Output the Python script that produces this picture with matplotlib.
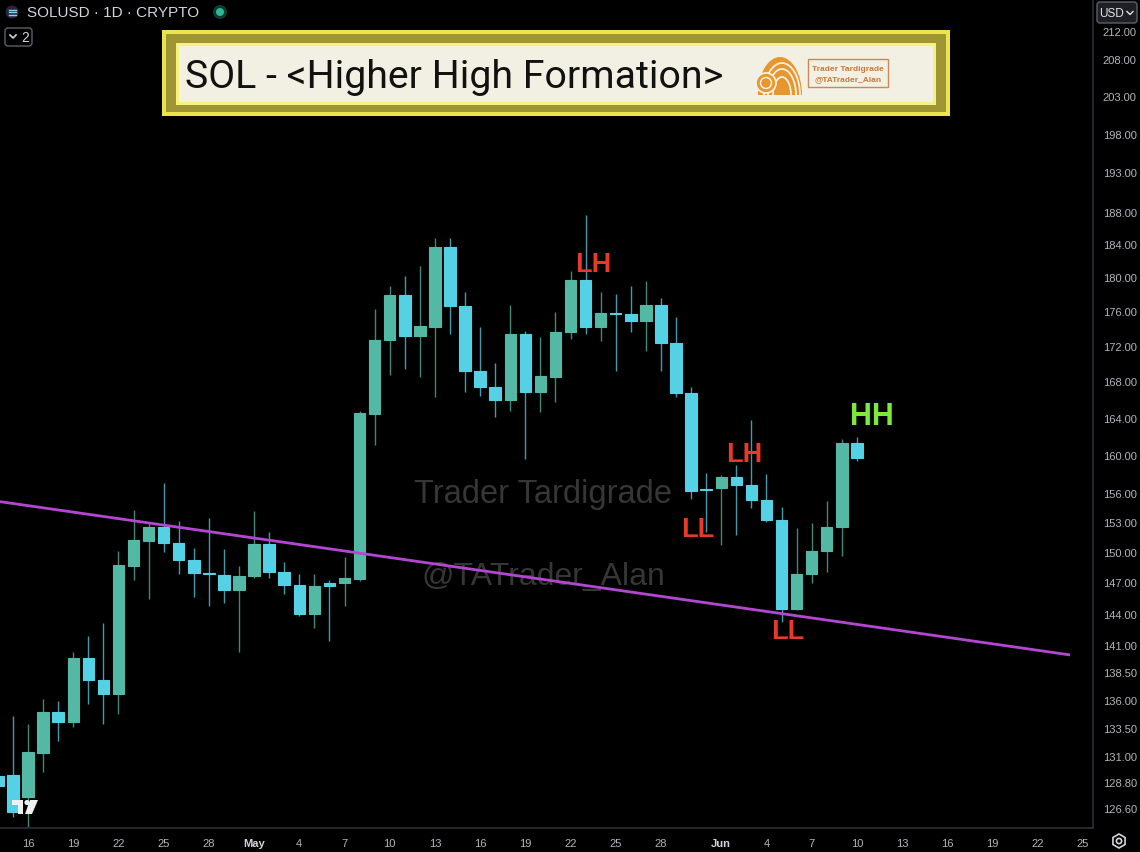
import numpy as np
import pandas as pd
import matplotlib
matplotlib.use("Agg")
import matplotlib.pyplot as plt
import matplotlib.dates as mdates
from matplotlib.patches import Rectangle, FancyBboxPatch, Circle, RegularPolygon, Polygon, Ellipse

plt.rcParams['font.family'] = ['Liberation Sans', 'DejaVu Sans']

# daily SOLUSD candles, Apr 14 - Jun 10
dates = pd.date_range("2024-04-14", "2024-06-10", freq="D")
opens = [129.3, 129.4, 127.5, 131.3, 134.9, 134.0, 139.8, 137.8, 136.5, 148.6,
         151.1, 152.5, 150.9, 149.2, 147.9, 147.75, 146.3, 147.6, 150.8, 148.0,
         146.8, 144.0, 146.9, 146.9, 147.3, 164.4, 172.7, 177.9, 173.1, 174.2,
         183.7, 176.6, 169.2, 167.4, 165.9, 173.3, 166.8, 168.5, 173.6, 179.7,
         174.1, 175.8, 175.7, 174.9, 176.7, 172.3, 166.7, 156.4, 156.5, 157.7,
         156.8, 155.3, 153.2, 144.4, 147.8, 150.1, 152.5, 161.2]
closes = [128.4, 126.2, 131.4, 134.9, 134.0, 139.8, 137.8, 136.5, 148.7, 151.2,
          152.5, 150.9, 149.2, 147.9, 147.8, 146.3, 147.6, 150.8, 148.0, 146.8,
          144.0, 146.7, 146.7, 147.4, 164.5, 172.7, 177.9, 173.1, 174.3, 183.7,
          176.6, 169.2, 167.4, 165.9, 173.3, 166.8, 168.6, 173.6, 179.7, 174.1,
          175.8, 175.7, 174.9, 176.7, 172.3, 166.7, 156.2, 156.3, 157.7, 156.8,
          155.3, 153.2, 144.4, 147.8, 150.1, 152.5, 161.2, 159.7]
highs = [129.8, 134.5, 133.8, 136.1, 135.9, 140.4, 141.9, 143.1, 150.1, 154.2,
         153.0, 157.0, 153.1, 150.4, 153.4, 150.3, 148.6, 154.1, 152.0, 149.0,
         147.8, 147.8, 147.2, 149.5, 164.7, 176.2, 178.9, 180.1, 181.4, 184.7,
         184.8, 178.3, 174.2, 170.1, 176.7, 173.7, 173.0, 175.9, 180.8, 187.6,
         178.3, 178.0, 179.0, 179.5, 177.5, 175.3, 167.4, 158.1, 157.9, 158.9,
         163.7, 158.0, 154.6, 152.4, 152.9, 155.2, 161.7, 161.9]
lows = [127.8, 125.8, 125.0, 129.6, 132.3, 133.6, 135.6, 133.8, 134.7, 147.2,
        145.4, 150.0, 147.8, 145.6, 144.7, 145.0, 140.4, 147.4, 147.4, 145.9,
        143.8, 142.6, 141.4, 144.7, 147.1, 161.0, 168.7, 169.4, 168.5, 166.3,
        173.3, 166.8, 166.4, 164.1, 164.7, 159.6, 164.6, 165.7, 172.8, 173.4,
        172.6, 169.2, 173.6, 171.4, 169.1, 166.2, 155.4, 152.0, 150.7, 151.7,
        154.4, 153.0, 143.2, 144.3, 146.9, 148.0, 149.6, 159.3]

# drawn trendline (two anchor points)
trend_dates = ["2024-04-14 03:20", "2024-06-24 03:30"]
trend_prices = [155.1, 140.1]

# swing labels
swing_text = ["LH", "LH", "LL", "LL", "HH"]
swing_dates = ["2024-05-23 12:00", "2024-06-02 12:00", "2024-05-30 10:00", "2024-06-05 10:00", "2024-06-11 00:00"]
swing_prices = [181.6, 160.1, 152.3, 142.3, 164.2]

price_ticks = [126.6, 128.8, 131, 133.5, 136, 138.5, 141, 144, 147, 150, 153, 156,
               160, 164, 168, 172, 176, 180, 184, 188, 193, 198, 203, 208, 212]
date_ticks = ["2024-04-16", "2024-04-19", "2024-04-22", "2024-04-25", "2024-04-28",
              "2024-05-01", "2024-05-04", "2024-05-07", "2024-05-10", "2024-05-13",
              "2024-05-16", "2024-05-19", "2024-05-22", "2024-05-25", "2024-05-28",
              "2024-06-01", "2024-06-04", "2024-06-07", "2024-06-10", "2024-06-13",
              "2024-06-16", "2024-06-19", "2024-06-22", "2024-06-25"]
date_labels = ["16", "19", "22", "25", "28", "May", "4", "7", "10", "13", "16", "19",
               "22", "25", "28", "Jun", "4", "7", "10", "13", "16", "19", "22", "25"]

UP = "#53b8a4"
DOWN = "#55d1e6"
TXT = "#b2b5be"
ORANGE = "#e8962e"
CREAM = "#f2f0e2"

W, H = 1140, 853
fig = plt.figure(figsize=(W / 100, H / 100), dpi=100, facecolor="black")
ax = fig.add_axes([0, 1 - 829 / H, 1093 / W, 829 / H])
ax.set_facecolor("black")
ax.set_yscale("log")

x = mdates.date2num(dates)
o = np.array(opens); c = np.array(closes)
cols = [UP if cc >= oo else DOWN for oo, cc in zip(o, c)]
ax.vlines(x, lows, highs, colors=cols, linewidth=1.0, alpha=0.75, zorder=2)
bottoms = np.minimum(o, c)
heights = np.abs(c - o)
ax.bar(x, heights, bottom=bottoms, width=0.76, color=cols, edgecolor=cols,
       linewidth=0.8, zorder=3)

# trendline
ax.plot(mdates.date2num(pd.to_datetime(trend_dates)), trend_prices,
        color="#b447d2", linewidth=2.0, zorder=4, solid_capstyle="butt")

# watermark
ax.text(0.497, 0.404, "Trader Tardigrade", transform=ax.transAxes, ha="center",
        va="center", fontsize=23.5, color="#363636", zorder=1)
ax.text(0.497, 0.304, "@TATrader_Alan", transform=ax.transAxes, ha="center",
        va="center", fontsize=23, color="#363636", zorder=1)

for t, d, p in zip(swing_text, swing_dates, swing_prices):
    green = t == "HH"
    ax.text(mdates.date2num(pd.Timestamp(d)), p, t, ha="center", va="center",
            fontsize=22 if green else 19.5, fontweight="bold",
            color="#7cea3c" if green else "#e8392b", zorder=6)

x0 = mdates.date2num(pd.Timestamp("2024-04-16")) - 1.86
ax.set_xlim(x0, x0 + 1093 / 15.07)
ax.set_ylim(124.9, 216.5)

ax.yaxis.tick_right()
ax.set_yticks(price_ticks)
ax.set_yticklabels([f"{v:.2f}" for v in price_ticks])
ax.yaxis.set_minor_locator(matplotlib.ticker.NullLocator())
ax.tick_params(axis="y", length=0, pad=7, labelsize=8, labelcolor=TXT)
ax.set_xticks(mdates.date2num(pd.to_datetime(date_ticks)))
ax.set_xticklabels(date_labels)
ax.tick_params(axis="x", length=0, pad=7, labelsize=8, labelcolor=TXT)
for lab in ax.get_xticklabels():
    if lab.get_text() in ("May", "Jun"):
        lab.set_fontweight("bold")
        lab.set_color("#d1d4dc")
for s in ("top", "left"):
    ax.spines[s].set_visible(False)
for s in ("right", "bottom"):
    ax.spines[s].set_color("#2e3038")
    ax.spines[s].set_linewidth(1.2)

# overlay in pixel coordinates for the chart decorations
ov = fig.add_axes([0, 0, 1, 1], zorder=10)
ov.set_xlim(0, W)
ov.set_ylim(H, 0)
ov.axis("off")
ov.patch.set_alpha(0)

# title banner
ov.add_patch(Rectangle((162, 31), 788, 86, facecolor="#ece44a", edgecolor="none"))
ov.add_patch(Rectangle((166, 35), 780, 78, facecolor="#a09534", edgecolor="none"))
ov.add_patch(Rectangle((176, 44), 760, 62, facecolor="#f6f27c", edgecolor="none"))
ov.add_patch(Rectangle((179, 47), 754, 56, facecolor=CREAM, edgecolor="none"))
ov.text(185, 77, "SOL - <Higher High Formation>", ha="left", va="center",
        fontsize=28.3, color="#111111", family=["Roboto", "DejaVu Sans"])

# little orange tardigrade logo: striped dome with a round head, cut at the base
logo_clip = Rectangle((748, 55), 60, 41, transform=ov.transData)
logo_parts = [Ellipse((780, 96), 44, 76, facecolor=ORANGE, edgecolor="none")]
for w_, h_ in ((18, 36), (28, 52), (36, 64)):
    logo_parts.append(Ellipse((782, 96), w_, h_, facecolor="none", edgecolor=CREAM, linewidth=1.3))
logo_parts.append(Circle((766, 84), 10, facecolor=ORANGE, edgecolor=CREAM, linewidth=1.3))
logo_parts.append(Circle((766, 84), 5.5, facecolor="none", edgecolor=CREAM, linewidth=1.1))
for p in logo_parts:
    ov.add_patch(p)
    p.set_clip_path(logo_clip)
ov.add_patch(Rectangle((808, 60), 80, 28, facecolor="none", edgecolor="#c98a58", linewidth=1.0))
ov.text(848, 69, "Trader Tardigrade", ha="center", va="center", fontsize=6,
        color="#c8783c", fontweight="bold")
ov.text(848, 80, "@TATrader_Alan", ha="center", va="center", fontsize=6,
        color="#c8783c", fontweight="bold")

# header
ov.add_patch(Circle((12, 13), 6.5, facecolor="#2b2540", edgecolor="none"))
for dy in (-2.5, 0, 2.5):
    ov.plot([8.5, 15.5], [13 + dy, 13 + dy], color="#8fd0e8", linewidth=1.0)
ov.text(27, 13, "SOLUSD · 1D · CRYPTO", ha="left", va="center", fontsize=11, color="#d1d4dc")
ov.add_patch(Circle((220, 13), 7, facecolor="#0e3b33", edgecolor="none"))
ov.add_patch(Circle((220, 13), 4, facecolor="#2fb896", edgecolor="none"))
ov.add_patch(FancyBboxPatch((5, 29), 27, 18, boxstyle="round,pad=0,rounding_size=3",
                            facecolor="black", edgecolor="#5d606b", linewidth=1))
ov.plot([10, 13, 16], [36, 39, 36], color="#d1d4dc", linewidth=1.2)
ov.text(25, 38, "2", ha="center", va="center", fontsize=10, color="#d1d4dc")

# currency box
ov.add_patch(FancyBboxPatch((1097, 3), 40, 21, boxstyle="round,pad=0,rounding_size=3",
                            facecolor="#1e1f24", edgecolor="#5d606b", linewidth=1))
ov.text(1111, 14, "USD", ha="center", va="center", fontsize=8.5, color="#e0e3eb")
ov.plot([1127, 1130, 1133], [12.5, 15.5, 12.5], color="#e0e3eb", linewidth=1.0)

# settings glyph
ov.add_patch(RegularPolygon((1119, 842), 6, radius=7, orientation=0, facecolor="none",
                            edgecolor="#d1d4dc", linewidth=1.2))
ov.add_patch(Circle((1119, 842), 2.6, facecolor="none", edgecolor="#d1d4dc", linewidth=1.2))

# chart logo
ov.add_patch(Polygon([[12, 801], [23, 801], [23, 815], [18, 815], [18, 806], [12, 806]],
                     facecolor="#f0f0f0", edgecolor="none"))
ov.add_patch(Circle((27, 803.5), 2.6, facecolor="#f0f0f0", edgecolor="none"))
ov.add_patch(Polygon([[30, 801], [38, 801], [32, 815], [25, 815]], facecolor="#f0f0f0", edgecolor="none"))

fig.savefig("out.png", dpi=100, facecolor="black")
